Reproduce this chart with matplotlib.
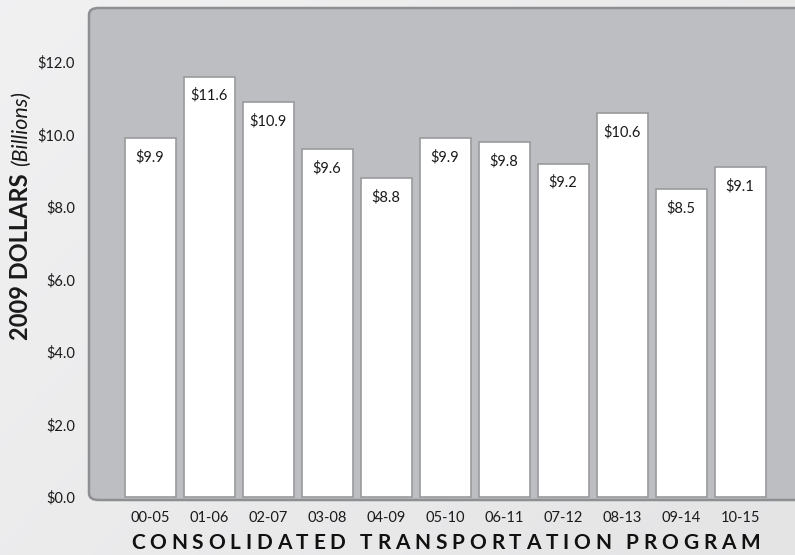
import matplotlib
matplotlib.use("Agg")
import matplotlib.pyplot as plt
import numpy as np
from matplotlib.patches import FancyBboxPatch

categories = ["00-05", "01-06", "02-07", "03-08", "04-09", "05-10", "06-11", "07-12", "08-13", "09-14", "10-15"]
values = [9.9, 11.6, 10.9, 9.6, 8.8, 9.9, 9.8, 9.2, 10.6, 8.5, 9.1]
yticks = [0, 2, 4, 6, 8, 10, 12]

FONT = ["Lato", "DejaVu Sans"]
W, H = 795, 555
fig = plt.figure(figsize=(W / 100, H / 100), dpi=100)

# background gradient
bg = fig.add_axes([0, 0, 1, 1], zorder=-10)
gx = np.linspace(0, 1, 200)
gy = np.linspace(0, 1, 200)
GX, GY = np.meshgrid(gx, gy)
grad = 0.945 - 0.05 * (0.6 * GX + 0.4 * GY)
bg.imshow(np.dstack([grad, grad, grad * 1.005]).clip(0, 1), extent=[0, 1, 0, 1], aspect="auto", origin="upper")
bg.axis("off")

def fx(px):
    return px / W

def fy(py):
    return 1 - py / H

# panel
panel = FancyBboxPatch((fx(89), fy(500)), fx(760), fy(8) - fy(500),
                       boxstyle="round,pad=0,rounding_size=0.012",
                       transform=fig.transFigure, facecolor="#bdbec2",
                       edgecolor="#8e8f93", linewidth=1.8, zorder=-5)
fig.patches.append(panel)

left_px, right_px, top_px, bot_px = 89, 795, 8, 500
ax = fig.add_axes([fx(left_px), fy(bot_px), fx(right_px) - fx(left_px), fy(top_px) - fy(bot_px)])
ax.set_facecolor("none")

x0_px, step_px = 150, 59.0
y0_px, unit_px = 497, 36.25
ax.set_xlim((left_px - x0_px) / step_px, (right_px - x0_px) / step_px)
ax.set_ylim((y0_px - bot_px) / unit_px, (y0_px - top_px) / unit_px)

x = np.arange(len(categories))
ax.bar(x, values, width=51 / step_px, color="white", edgecolor="#9a9a9c", linewidth=1.2, zorder=3)
for xi, v in zip(x, values):
    ax.annotate(f"${v:.1f}", (xi, v), xytext=(0, -8.5), textcoords="offset points",
                ha="center", va="top", fontsize=10.5, family=FONT, color="#1a1a1a", zorder=4)

for s in ax.spines.values():
    s.set_visible(False)
ax.set_xticks(x)
ax.set_xticklabels(categories, family=FONT, fontsize=10.5, color="#1a1a1a")
ax.set_yticks(yticks)
ax.set_yticklabels([f"${t:.1f}" for t in yticks], family=FONT, fontsize=10.5, color="#1a1a1a")
ax.tick_params(length=0, pad=10)
ax.tick_params(axis="x", pad=8)

fig.canvas.draw()
r = fig.canvas.get_renderer()

# y label: bold part then italic part
t1 = fig.text(fx(21), fy(340), "2009 DOLLARS", rotation=90, ha="center", va="bottom",
              family=FONT, fontsize=17, fontweight="bold", color="#1a1a1a")
bb = t1.get_window_extent(r)
top1 = bb.y1
fig.text(fx(21), (top1 + 7) / H, "(Billions)", rotation=90, ha="center", va="bottom",
         family=FONT, fontsize=15.5, style="italic", color="#1a1a1a")

# x label with letter spacing
label = "CONSOLIDATED TRANSPORTATION PROGRAM"
fs = 15
widths = []
for ch in label:
    t = fig.text(0, 0, ch if ch != " " else "I", family=FONT, fontsize=fs, fontweight="bold")
    b = t.get_window_extent(r)
    widths.append(b.width * (0.8 if ch == " " else 1.0))
    t.remove()
target_left, target_right = 131, 760
spacing = (target_right - target_left - sum(widths)) / (len(label) - 1)
pos = target_left
for ch, w in zip(label, widths):
    if ch != " ":
        fig.text(fx(pos), fy(549), ch, ha="left", va="baseline",
                 family=FONT, fontsize=fs, fontweight="bold", color="#111111")
    pos += w + spacing

fig.savefig("out.png", dpi=100)
